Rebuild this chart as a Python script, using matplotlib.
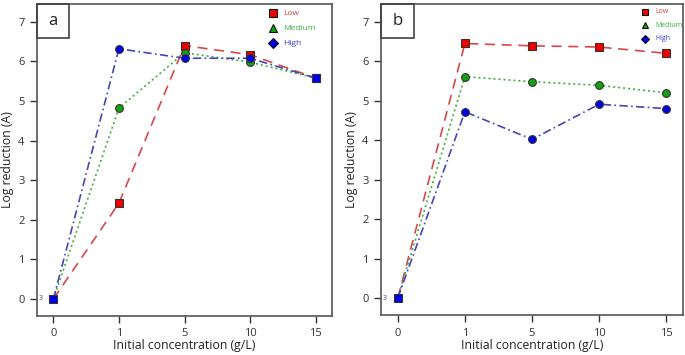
import numpy as np
import matplotlib
matplotlib.use('Agg')
import matplotlib.pyplot as plt
from matplotlib.patches import Rectangle

plt.rcParams['font.family'] = ['Open Sans', 'DejaVu Sans']

conc_labels = ['0', '1', '5', '10', '15']

# panel a
a_low = [0, 2.42, 6.40, 6.17, 5.58]
a_med = [0, 4.82, 6.22, 5.98, 5.58]
a_high = [0, 6.32, 6.08, 6.08, 5.58]

# panel b
b_low = [0, 6.45, 6.39, 6.36, 6.20]
b_med = [0, 5.61, 5.48, 5.39, 5.20]
b_high = [0, 4.72, 4.02, 4.91, 4.80]

series_names = ['Low', 'Medium', 'High']
line_cols = ['#d8474b', '#3fae3f', '#4646b8']
mark_cols = ['#ee0000', '#12a012', '#0000e6']
text_cols = ['#d63a3a', '#3fae3f', '#3c3cd0']
styles = [(0, (6, 4)), (0, (1.2, 1.8)), (0, (5, 2, 1, 2))]
leg_marks = ['s', '^', 'D']


def draw_panel(ax, data, letter, legsize, leg_x, leg_y0, leg_dy):
    x = np.arange(len(conc_labels))
    for i, ys in enumerate(data):
        ax.plot(x, ys, color=line_cols[i], linestyle=styles[i], lw=1.2, zorder=2)
    # markers: low squares, others circles, coincident end points as squares
    for i, ys in enumerate(data):
        ax.plot(x[1:], ys[1:], linestyle='none', marker='s' if i == 0 else 'o',
                ms=5.6, mfc=mark_cols[i], mec='#333333', mew=0.8, zorder=3 + i)
    ax.plot([0], [0], linestyle='none', marker='s', ms=6, mfc=mark_cols[2],
            mec='#333333', mew=0.8, zorder=7)
    if letter == 'a':
        ax.plot([4], [data[2][4]], linestyle='none', marker='s', ms=6,
                mfc=mark_cols[2], mec='#333333', mew=0.8, zorder=7)
    ax.text(-0.19, 0, '3', fontsize=5, color='#555555', ha='center', va='center')

    ax.set_xlim(-0.25, 4.25)
    ax.set_ylim(-0.43, 7.45)
    ax.set_xticks(x)
    ax.set_xticklabels(conc_labels)
    ax.set_yticks(range(0, 8))
    ax.tick_params(direction='out', length=5, width=1, color='#333333',
                   labelsize=8, labelcolor='#333333', pad=4)
    for s in ax.spines.values():
        s.set_color('#555555')
        s.set_linewidth(1.2)
    ax.set_xlabel('Initial concentration (g/L)', fontsize=8.8, color='#222222', labelpad=0)
    ax.set_ylabel('Log reduction (A)', fontsize=8.8, color='#222222', labelpad=3)

    # letter box
    ax.add_patch(Rectangle((0, 0.89), 0.11, 0.11, transform=ax.transAxes,
                           fill=False, ec='#444444', lw=1.2, clip_on=False, zorder=10))
    ax.text(0.055, 0.945, letter, transform=ax.transAxes, fontsize=12,
            ha='center', va='center', color='#222222')

    # legend
    for i, nm in enumerate(series_names):
        yy = leg_y0 - i * leg_dy
        ax.plot([leg_x], [yy], transform=ax.transAxes, marker=leg_marks[i],
                ms=legsize - (1 if leg_marks[i] == 'D' else 0), mfc=mark_cols[i],
                mec='#111111', mew=0.8, linestyle='none', clip_on=False)
        ax.text(leg_x + 0.035, yy, nm, transform=ax.transAxes, fontsize=legsize,
                color=text_cols[i], va='center', ha='left')


fig = plt.figure(figsize=(6.85, 3.55), dpi=100)
ax1 = fig.add_axes([37 / 685, 1 - 316 / 355, 295 / 685, 312 / 355])
ax2 = fig.add_axes([381 / 685, 1 - 315 / 355, 302 / 685, 311 / 355])

draw_panel(ax1, [a_low, a_med, a_high], 'a', 6, 0.80, 0.97, 0.048)
draw_panel(ax2, [b_low, b_med, b_high], 'b', 5, 0.875, 0.975, 0.043)

fig.savefig('out.png', dpi=100)
